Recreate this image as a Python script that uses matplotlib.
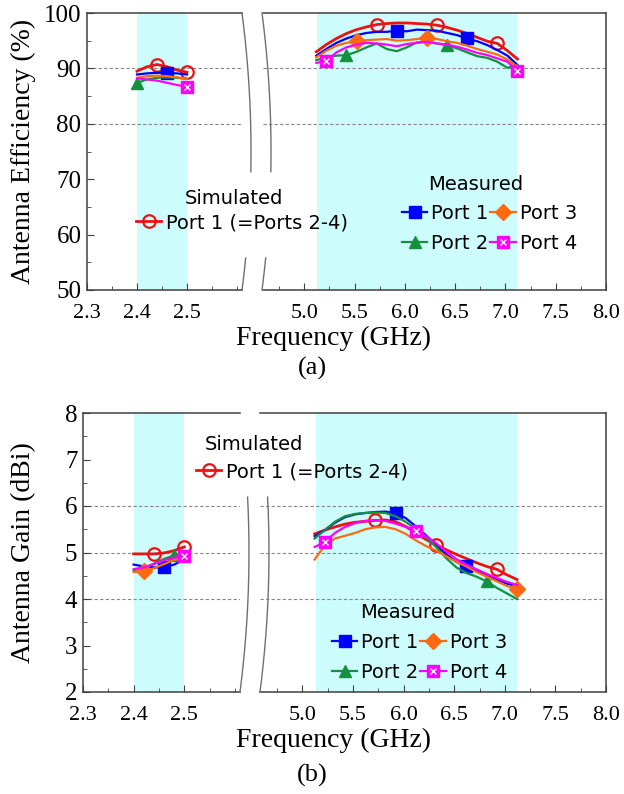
import numpy as np
import matplotlib
matplotlib.use('Agg')
import matplotlib.pyplot as plt
from matplotlib.lines import Line2D
from matplotlib.ticker import MultipleLocator, FormatStrFormatter

plt.rcParams['font.family'] = 'Liberation Serif'
plt.rcParams['font.size'] = 16

# ---------------- data ----------------
# 2.4 GHz band
freq_lo = [2.40, 2.42, 2.44, 2.46, 2.48, 2.50]
# 5 GHz band
freq_hi = [5.12, 5.22, 5.32, 5.42, 5.52, 5.62, 5.72, 5.82, 5.92, 6.02, 6.12,
           6.22, 6.32, 6.42, 6.52, 6.62, 6.72, 6.82, 6.92, 7.02, 7.12]

# (a) efficiency (%)
eff_sim_lo = [89.5, 90.3, 90.7, 90.3, 89.7, 89.3]
eff_p1_lo = [88.9, 89.1, 89.2, 89.2, 89.1, 88.9]
eff_p2_lo = [87.4, 88.0, 88.3, 88.4, 88.3, 88.1]
eff_p3_lo = [88.3, 88.6, 88.7, 88.6, 88.4, 88.1]
eff_p4_lo = [88.2, 88.0, 87.8, 87.4, 87.0, 86.7]

eff_sim_hi = [93.0, 94.3, 95.4, 96.3, 97.0, 97.5, 97.9, 98.1, 98.2, 98.2, 98.1,
              98.0, 97.8, 97.4, 96.9, 96.3, 95.6, 94.9, 94.5, 93.2, 91.7]
eff_p1_hi = [92.3, 93.5, 94.6, 95.4, 96.0, 96.4, 96.6, 96.6, 96.8, 96.7, 97.0,
             96.9, 96.8, 96.4, 96.0, 95.4, 94.9, 94.2, 93.3, 92.3, 90.6]
eff_p2_hi = [91.5, 92.0, 92.3, 92.4, 93.0, 93.8, 94.5, 93.5, 93.1, 93.8, 94.7,
             94.8, 94.5, 94.2, 93.6, 92.9, 92.2, 91.9, 91.2, 90.1, 90.6]
eff_p3_hi = [92.0, 93.2, 94.1, 94.6, 94.9, 95.1, 95.2, 95.3, 95.0, 95.1, 95.3,
             95.5, 95.3, 94.9, 94.6, 94.1, 93.5, 93.0, 92.5, 91.6, 90.3]
eff_p4_hi = [91.0, 91.3, 92.9, 93.8, 94.3, 94.6, 94.5, 94.3, 94.0, 94.4, 94.6,
             94.8, 94.5, 94.3, 93.9, 93.4, 92.8, 92.4, 91.8, 91.2, 89.5]

# (b) gain (dBi)
gain_sim_lo = [4.97, 4.97, 4.97, 4.99, 5.04, 5.12]
gain_p1_lo = [4.74, 4.70, 4.68, 4.68, 4.74, 4.85]
gain_p2_lo = [4.62, 4.66, 4.76, 4.86, 4.94, 4.98]
gain_p3_lo = [4.58, 4.60, 4.66, 4.75, 4.84, 4.90]
gain_p4_lo = [4.64, 4.68, 4.75, 4.83, 4.89, 4.92]

gain_sim_hi = [5.40, 5.48, 5.55, 5.61, 5.65, 5.67, 5.69, 5.70, 5.66, 5.56, 5.42,
               5.28, 5.16, 5.06, 4.96, 4.87, 4.78, 4.70, 4.64, 4.52, 4.42]
gain_p1_hi = [5.35, 5.48, 5.64, 5.76, 5.82, 5.85, 5.87, 5.88, 5.84, 5.74, 5.56,
              5.37, 5.17, 4.96, 4.80, 4.70, 4.62, 4.52, 4.42, 4.33, 4.28]
gain_p2_hi = [5.30, 5.48, 5.66, 5.78, 5.83, 5.85, 5.86, 5.85, 5.78, 5.66, 5.50,
              5.32, 5.12, 4.88, 4.68, 4.56, 4.48, 4.38, 4.24, 4.12, 4.00]
gain_p3_hi = [4.85, 5.15, 5.30, 5.36, 5.42, 5.50, 5.54, 5.55, 5.50, 5.40, 5.26,
              5.14, 5.04, 4.92, 4.80, 4.70, 4.58, 4.48, 4.38, 4.28, 4.22]
gain_p4_hi = [5.12, 5.22, 5.42, 5.55, 5.63, 5.68, 5.70, 5.68, 5.62, 5.55, 5.47,
              5.35, 5.20, 5.02, 4.86, 4.74, 4.64, 4.54, 4.45, 4.37, 4.30]

# marker indices (where symbols sit on each curve)
mk_a = {'sim': ([2, 5], [6, 12, 18]), 'p1': ([3], [8, 15]), 'p2': ([0], [3, 13]),
        'p3': ([], [4, 11]), 'p4': ([5], [1, 20])}
mk_b = {'sim': ([2, 5], [6, 12, 18]), 'p1': ([3], [8, 15]), 'p2': ([4], [17]),
        'p3': ([1], [20]), 'p4': ([5], [1, 10])}

band_lo = (2.40, 2.50)
band_hi = (5.13, 7.12)

RED = '#ee1111'
BLUE = '#0000ff'
GREEN = '#159040'
ORANGE = '#ff6a10'
MAGENTA = '#ff00ff'
CYAN = '#ccfcfc'
SPINE = '#404040'

styles = {
    'sim': dict(color=RED, marker='o', mfc='none', mec=RED, ms=9, mew=1.6, lw=2.0),
    'p1': dict(color=BLUE, marker='s', ms=9, lw=1.6),
    'p2': dict(color=GREEN, marker='^', ms=9, lw=1.6),
    'p3': dict(color=ORANGE, marker='D', ms=8, lw=1.6),
    'p4': dict(color=MAGENTA, marker='s', ms=9, lw=1.6),
}

W, H = 624, 794
fig = plt.figure(figsize=(W / 100, H / 100), dpi=100)


def px_axes(x0, x1, y0, y1):
    return fig.add_axes([x0 / W, 1 - y1 / H, (x1 - x0) / W, (y1 - y0) / H])


def style_axes(axl, axr, ylim, ymaj, ymin, grid_y, xpad):
    for ax in (axl, axr):
        ax.set_ylim(*ylim)
        for s in ax.spines.values():
            s.set_color(SPINE)
            s.set_linewidth(1.1)
        ax.tick_params(direction='in', which='both', colors=SPINE, labelcolor='black',
                       labelsize=16)
        ax.tick_params(axis='x', pad=xpad)
        ax.tick_params(which='major', length=5)
        ax.tick_params(which='minor', length=3)
        ax.xaxis.set_major_formatter(FormatStrFormatter('%.1f'))
        for g in grid_y:
            ax.axhline(g, color='#888888', ls=(0, (3, 2)), lw=0.8, zorder=1)
    axl.tick_params(axis='y', labelsize=18, pad=4)
    axl.set_xlim(2.3, 2.61)
    axl.set_xticks([2.3, 2.4, 2.5])
    axl.xaxis.set_minor_locator(MultipleLocator(0.05))
    axl.yaxis.set_major_locator(MultipleLocator(ymaj))
    axl.yaxis.set_minor_locator(MultipleLocator(ymin))
    axl.spines['right'].set_visible(False)
    axr.set_xlim(4.59, 8.0)
    axr.xaxis.set_major_locator(MultipleLocator(0.5))
    axr.xaxis.set_minor_locator(MultipleLocator(0.25))
    axr.spines['left'].set_visible(False)
    axr.set_yticks([])
    axr.yaxis.set_minor_locator(plt.NullLocator())
    axl.axvspan(*band_lo, color=CYAN, lw=0, zorder=0)
    axr.axvspan(*band_hi, color=CYAN, lw=0, zorder=0)


def draw_curves(axl, axr, lo, hi, mk):
    for key in ['sim', 'p1', 'p2', 'p3', 'p4']:
        st = styles[key]
        for ax, f, y, idx in ((axl, freq_lo, lo[key], mk[key][0]),
                              (axr, freq_hi, hi[key], mk[key][1])):
            ax.plot(f, y, markevery=idx, zorder=3, **st)
            if key == 'p4':
                ax.plot(f, y, ls='none', marker='x', ms=5, mew=1.0, color='white',
                        markevery=idx, zorder=4)


def draw_breaks(x_left, x_right, y_top, y_bot, gaps):
    # curved break marks between the two axis segments (pixel coordinates)
    ys = np.linspace(y_top, y_bot, 200)
    t = (ys - (y_top + y_bot) / 2) / ((y_bot - y_top) / 2)
    bow = 9 * (1 - t ** 2)
    for x0 in (x_left, x_right):
        xs = x0 + bow
        keep = np.ones_like(ys, dtype=bool)
        for g0, g1 in gaps:
            keep &= ~((ys > g0) & (ys < g1))
        segs = np.split(np.arange(len(ys)), np.where(np.diff(keep.astype(int)) != 0)[0] + 1)
        for s in segs:
            if keep[s[0]] and len(s) > 1:
                fig.add_artist(Line2D(xs[s] / W, 1 - ys[s] / H, color='#707070', lw=1.0))


sim_handle = Line2D([], [], **styles['sim'])
p4_cross = Line2D([], [], ls='none', marker='x', ms=5, mew=1.0, color='white')
leg_font = dict(family='DejaVu Sans', size=14)


def add_legends(sim_title, sim_anchor, meas_title, meas_anchor):
    fig.text(sim_title[0] / W, 1 - sim_title[1] / H, 'Simulated', ha='left', va='center',
             **leg_font)
    fig.text(meas_title[0] / W, 1 - meas_title[1] / H, 'Measured', ha='left', va='center',
             **leg_font)
    fig.legend([sim_handle], ['Port 1 (=Ports 2-4)'],
               loc='upper left', bbox_to_anchor=(sim_anchor[0] / W, 1 - sim_anchor[1] / H),
               frameon=False, prop=leg_font, handlelength=1.3, handletextpad=0.25,
               borderpad=0, borderaxespad=0)
    h = [Line2D([], [], **styles[k]) for k in ['p1', 'p2', 'p3']]
    h4 = (Line2D([], [], **styles['p4']), p4_cross)
    fig.legend([h[0], h[1], h[2], h4], ['Port 1', 'Port 2', 'Port 3', 'Port 4'],
               ncol=2, loc='upper left',
               bbox_to_anchor=(meas_anchor[0] / W, 1 - meas_anchor[1] / H),
               frameon=False, prop=leg_font, handlelength=1.3, handletextpad=0.2,
               columnspacing=0.1, borderpad=0, borderaxespad=0, labelspacing=0.57)


# ---------------- panel (a) ----------------
ax1l = px_axes(87, 242, 13, 290)
ax1r = px_axes(263, 606, 13, 290)
style_axes(ax1l, ax1r, (50, 100), 10, 5, [80, 90], xpad=10)
draw_curves(ax1l, ax1r,
            dict(sim=eff_sim_lo, p1=eff_p1_lo, p2=eff_p2_lo, p3=eff_p3_lo, p4=eff_p4_lo),
            dict(sim=eff_sim_hi, p1=eff_p1_hi, p2=eff_p2_hi, p3=eff_p3_hi, p4=eff_p4_hi),
            mk_a)
ax1l.set_ylabel('Antenna Efficiency (%)', fontsize=20)
ax1l.yaxis.set_label_coords((36 - 87) / 155, 0.5)
fig.text(333 / W, 1 - 338 / H, 'Frequency (GHz)', ha='center', va='center', fontsize=20)
fig.text(312 / W, 1 - 368 / H, '(a)', ha='center', va='center', fontsize=19)
draw_breaks(242, 262, 13, 290, [(173, 257)])
add_legends((185, 198), (136, 213), (428, 184), (402, 204))

# ---------------- panel (b) ----------------
ax2l = px_axes(83, 240, 413, 692)
ax2r = px_axes(260, 606, 413, 692)
style_axes(ax2l, ax2r, (2, 8), 1, 0.5, [4, 5, 6], xpad=10)
ax2r.set_xlim(4.58, 8.0)
draw_curves(ax2l, ax2r,
            dict(sim=gain_sim_lo, p1=gain_p1_lo, p2=gain_p2_lo, p3=gain_p3_lo, p4=gain_p4_lo),
            dict(sim=gain_sim_hi, p1=gain_p1_hi, p2=gain_p2_hi, p3=gain_p3_hi, p4=gain_p4_hi),
            mk_b)
ax2l.set_ylabel('Antenna Gain (dBi)', fontsize=20)
ax2l.yaxis.set_label_coords((36 - 83) / 157, 0.5)
fig.text(333 / W, 1 - 740 / H, 'Frequency (GHz)', ha='center', va='center', fontsize=20)
fig.text(312 / W, 1 - 775 / H, '(b)', ha='center', va='center', fontsize=19)
draw_breaks(240, 260, 413, 692, [(413, 497)])
add_legends((205, 445), (196, 462), (360, 613), (332, 633))

fig.savefig('out.png', dpi=100)
